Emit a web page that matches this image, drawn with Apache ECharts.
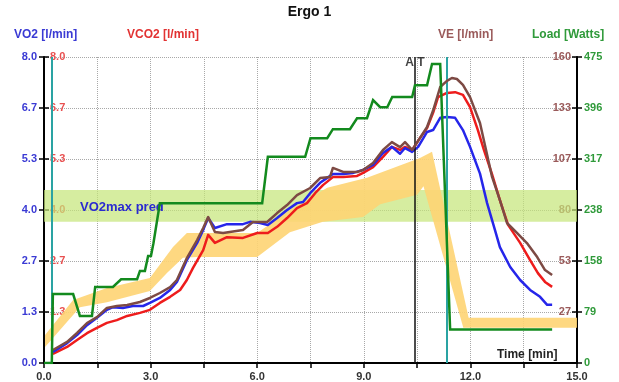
<!DOCTYPE html>
<html>
<head>
<meta charset="utf-8">
<script src="https://cdn.jsdelivr.net/npm/echarts@6/dist/echarts.min.js"></script>
<style>
  html, body { margin: 0; padding: 0; background: #fff; }
  #chart { width: 619px; height: 382px; }
</style>
</head>
<body>
<div id="chart"></div>
<script>
// time in minutes
var vo2Data = [
  [0.25, 0.29], [0.65, 0.52], [0.93, 0.73], [1.21, 0.99], [1.49, 1.18], [1.77, 1.39],
  [1.94, 1.46], [2.22, 1.44], [2.50, 1.49], [2.79, 1.49], [2.98, 1.57], [3.26, 1.70],
  [3.55, 1.91], [3.74, 2.12], [4.02, 2.69], [4.31, 3.14], [4.48, 3.48], [4.62, 3.79],
  [4.81, 3.53], [5.15, 3.63], [5.60, 3.63], [5.80, 3.69], [6.08, 3.66], [6.30, 3.61],
  [6.56, 3.79], [6.84, 4.00], [7.12, 4.18], [7.29, 4.21], [7.49, 4.44], [7.77, 4.71],
  [7.97, 4.84], [8.13, 4.94], [8.42, 4.94], [8.70, 4.97], [8.98, 5.05], [9.26, 5.18],
  [9.54, 5.49], [9.79, 5.65], [10.02, 5.47], [10.16, 5.62], [10.36, 5.52], [10.53, 5.65],
  [10.78, 6.04], [10.95, 6.09], [11.15, 6.41], [11.34, 6.43], [11.57, 6.41], [11.79, 6.09],
  [11.99, 5.65], [12.27, 4.95], [12.47, 4.18], [12.69, 3.48], [12.83, 3.03], [13.12, 2.51],
  [13.40, 2.17], [13.68, 1.91], [13.96, 1.73], [14.16, 1.52], [14.30, 1.52]
];
var vco2Data = [
  [0.25, 0.24], [0.65, 0.42], [0.93, 0.60], [1.21, 0.78], [1.49, 0.92], [1.77, 1.05],
  [2.05, 1.12], [2.34, 1.23], [2.70, 1.31], [2.98, 1.39], [3.26, 1.57], [3.55, 1.73],
  [3.83, 1.91], [4.02, 2.17], [4.19, 2.48], [4.48, 2.95], [4.62, 3.35], [4.81, 3.14],
  [5.15, 3.29], [5.60, 3.27], [6.00, 3.40], [6.30, 3.40], [6.56, 3.56], [6.84, 3.79],
  [7.12, 4.05], [7.40, 4.18], [7.63, 4.44], [7.85, 4.65], [8.13, 4.86], [8.42, 4.86],
  [8.81, 4.89], [8.98, 4.97], [9.26, 5.12], [9.54, 5.39], [9.79, 5.65], [10.02, 5.57],
  [10.16, 5.65], [10.36, 5.57], [10.58, 5.88], [10.78, 6.14], [10.95, 6.54], [11.09, 6.95],
  [11.34, 7.06], [11.57, 7.08], [11.79, 7.01], [11.99, 6.69], [12.21, 6.09], [12.38, 5.57],
  [12.61, 4.93], [12.83, 4.26], [13.06, 3.61], [13.40, 3.14], [13.68, 2.69], [13.90, 2.35],
  [14.10, 2.12], [14.30, 1.99]
];
var veData = [
  [0.25, 6.8], [0.65, 11], [0.93, 15.7], [1.21, 20.9], [1.49, 24], [1.77, 28.8],
  [2.05, 29.8], [2.34, 30.3], [2.70, 31.9], [2.98, 34], [3.26, 36.6], [3.55, 39.7],
  [3.74, 43.4], [4.02, 54.9], [4.31, 64.3], [4.48, 70.6], [4.62, 76.3], [4.81, 68.5],
  [5.04, 68], [5.60, 69.5], [5.88, 73.7], [6.28, 73.7], [6.56, 78.4], [6.84, 82.6],
  [7.12, 87.8], [7.49, 91.5], [7.77, 96.7], [8.05, 97.3], [8.13, 102], [8.42, 99.9],
  [8.81, 99.9], [8.98, 100.9], [9.26, 104.6], [9.54, 111.4], [9.79, 115.5], [10.02, 112.9],
  [10.16, 115.5], [10.36, 111.4], [10.58, 117.6], [10.78, 123.4], [10.95, 132], [11.15, 144.3],
  [11.34, 147.5], [11.48, 149], [11.62, 148.5], [11.79, 145.4], [11.99, 139], [12.27, 125.5],
  [12.44, 111.4], [12.61, 97.3], [12.83, 85.2], [13.03, 73.2], [13.31, 68], [13.59, 62.7],
  [13.88, 55.4], [14.10, 48.6], [14.30, 46]
];
var loadData = [
  [0, 0], [0.22, 0], [0.25, 107], [0.82, 107], [1.01, 73], [1.35, 73], [1.44, 118],
  [1.94, 118], [2.17, 130], [2.62, 130], [2.70, 143], [2.84, 143], [2.93, 166], [3.01, 166],
  [3.08, 186], [3.12, 186], [3.26, 248], [6.14, 248], [6.30, 320], [7.35, 320], [7.50, 349],
  [7.97, 349], [8.13, 363], [8.61, 363], [8.81, 380], [9.09, 380], [9.26, 408], [9.46, 397],
  [9.66, 397], [9.80, 413], [10.36, 413], [10.44, 431], [10.78, 431], [10.92, 464],
  [11.15, 464], [11.43, 52], [14.30, 52]
];
// predicted band (VO2 scale), upper edge left to right, lower edge right to left
var bandUpper = [
  [0.03, 0.73], [0.82, 1.65], [1.77, 1.96], [2.98, 2.22], [3.63, 3.03], [4.02, 3.40],
  [6.00, 3.40], [6.92, 4.00], [7.97, 4.58], [9.09, 4.84], [10.58, 5.36], [10.92, 5.52],
  [11.95, 1.18], [15.0, 1.18]
];
var bandLower = [
  [15.0, 0.92], [11.80, 0.92], [10.68, 4.62], [10.50, 4.40], [9.46, 4.15], [8.98, 3.82],
  [7.85, 3.69], [6.92, 3.42], [6.00, 2.77], [4.31, 2.77], [3.91, 2.75], [3.46, 2.35],
  [2.98, 1.88], [1.77, 1.59], [1.01, 1.46], [0.03, 0.42]
];
var vo2maxBand = [3.69, 4.52];
var startTime = 0.23, atTime = 10.44, endTime = 11.34;
var timeMax = 15, vo2Max = 8, veMax = 160, loadMax = 475;

var bandPoly = bandUpper.concat(bandLower);
var FONT = 'Liberation Sans, Arial, sans-serif';
var BLUE = '#2626ea', RED = '#ee1c1c', BROWN = '#7d4a44', GREEN = '#138a1e', TEAL = '#2aa3a3';

var chart = echarts.init(document.getElementById('chart'));

function headText(text, left, top, color, size) {
  return { text: text, left: left, top: top, padding: 0,
    textStyle: { color: color, fontSize: size || 12, fontWeight: 'bold', fontFamily: FONT } };
}

var option = {
  backgroundColor: '#fff',
  animation: false,
  title: [
    headText('Ergo 1', 'center', 5, '#111', 14),
    headText('VO2 [l/min]', 14, 29, '#3a3ad4'),
    headText('VCO2 [l/min]', 127, 29, '#e23232'),
    headText('VE [l/min]', 438, 29, '#9a5a5a'),
    headText('Load [Watts]', 532, 29, '#2f9a3a'),
    headText('Time [min]', 497, 349, '#222', 12)
  ],
  grid: { left: 44, right: 42, top: 57, bottom: 19 },
  xAxis: {
    type: 'value', min: 0, max: timeMax, interval: 1.5,
    axisLine: { lineStyle: { color: '#000', width: 2 } },
    axisTick: { length: 5, lineStyle: { color: '#000', width: 1.5 } },
    axisLabel: {
      color: '#333', fontSize: 11, fontWeight: 'bold', fontFamily: FONT, margin: 8,
      formatter: function (v) { return Math.round(v * 10) % 30 === 0 ? v.toFixed(1) : ''; }
    },
    splitLine: { show: true, lineStyle: { type: 'dotted', color: '#a8a8a8' } }
  },
  yAxis: [
    { type: 'value', min: 0, max: vo2Max, interval: vo2Max / 6, position: 'left',
      axisLine: { show: true, lineStyle: { color: '#000', width: 2 } },
      axisTick: { show: true, length: 5, lineStyle: { color: '#000', width: 1.5 } },
      axisLabel: { color: '#3a3ad4', fontSize: 11, fontWeight: 'bold', fontFamily: FONT, margin: 7,
        formatter: function (v) { return v.toFixed(1); } },
      splitLine: { show: true, lineStyle: { type: 'dotted', color: '#a8a8a8' } } },
    { type: 'value', min: 0, max: vo2Max, interval: vo2Max / 6, position: 'left',
      axisLine: { show: false },
      axisTick: { show: true, inside: true, length: 5, lineStyle: { color: '#000', width: 1.5 } },
      axisLabel: { inside: true, color: '#e85050', fontSize: 11, fontWeight: 'bold', fontFamily: FONT, margin: 6,
        showMinLabel: false, formatter: function (v) { return v.toFixed(1); } },
      splitLine: { show: false } },
    { type: 'value', min: 0, max: veMax, interval: veMax / 6, position: 'right',
      axisLine: { show: false },
      axisTick: { show: true, inside: true, length: 5, lineStyle: { color: '#000', width: 1.5 } },
      axisLabel: { inside: true, color: '#9a5a5a', fontSize: 11, fontWeight: 'bold', fontFamily: FONT, margin: 6,
        showMinLabel: false, formatter: function (v) { return Math.round(v); } },
      splitLine: { show: false } },
    { type: 'value', min: 0, max: loadMax, interval: loadMax / 6, position: 'right',
      axisLine: { show: true, lineStyle: { color: '#000', width: 2 } },
      axisTick: { show: true, length: 5, lineStyle: { color: '#000', width: 1.5 } },
      axisLabel: { color: '#2f9a3a', fontSize: 11, fontWeight: 'bold', fontFamily: FONT, margin: 7,
        formatter: function (v) { return Math.round(v); } },
      splitLine: { show: false } }
  ],
  series: [
    {
      name: 'VO2max pred', type: 'line', yAxisIndex: 0, data: [], z: 1, silent: true,
      markArea: {
        silent: true,
        itemStyle: { color: 'rgba(196, 230, 120, 0.7)' },
        label: { show: true, position: 'insideLeft', offset: [31, 1], color: '#2a2ad0',
          fontSize: 13, fontWeight: 'bold', fontFamily: FONT },
        data: [[{ yAxis: vo2maxBand[0], name: 'VO2max pred' }, { yAxis: vo2maxBand[1] }]]
      }
    },
    {
      name: 'band', type: 'custom', yAxisIndex: 0, z: 2, silent: true,
      data: [bandPoly[0]],
      renderItem: function (params, api) {
        var pts = bandPoly.map(function (p) { return api.coord(p); });
        return { type: 'polygon', z2: 10, shape: { points: pts },
          style: { fill: 'rgba(254, 212, 115, 0.9)' } };
      }
    },
    {
      name: 'VCO2', type: 'line', yAxisIndex: 1, data: vco2Data, showSymbol: false, z: 3,
      lineStyle: { color: RED, width: 2.5, join: 'round' }
    },
    {
      name: 'VO2', type: 'line', yAxisIndex: 0, data: vo2Data, showSymbol: false, z: 4,
      lineStyle: { color: BLUE, width: 2.5, join: 'round' },
      markLine: {
        silent: true, symbol: 'none', label: { show: false },
        data: [
          { xAxis: startTime, lineStyle: { color: TEAL, width: 2, type: 'solid' } },
          { xAxis: atTime, lineStyle: { color: '#111', width: 1.5, type: 'solid' } },
          { xAxis: endTime, lineStyle: { color: TEAL, width: 2, type: 'solid' } }
        ]
      }
    },
    {
      name: 'VE', type: 'line', yAxisIndex: 2, data: veData, showSymbol: false, z: 5,
      lineStyle: { color: BROWN, width: 2.5, join: 'round' }
    },
    {
      name: 'Load', type: 'line', yAxisIndex: 3, data: loadData, showSymbol: false, z: 6,
      lineStyle: { color: GREEN, width: 2.5, join: 'miter' }
    },
    {
      name: 'AT', type: 'scatter', yAxisIndex: 0, symbolSize: 1, z: 7, silent: true,
      itemStyle: { color: 'rgba(0,0,0,0)' },
      data: [[atTime, 7.84]],
      label: { show: true, position: 'inside', formatter: 'A T', color: '#111',
        fontSize: 12, fontWeight: 'bold', fontFamily: FONT }
    }
  ]
};
chart.setOption(option);
</script>
</body>
</html>
